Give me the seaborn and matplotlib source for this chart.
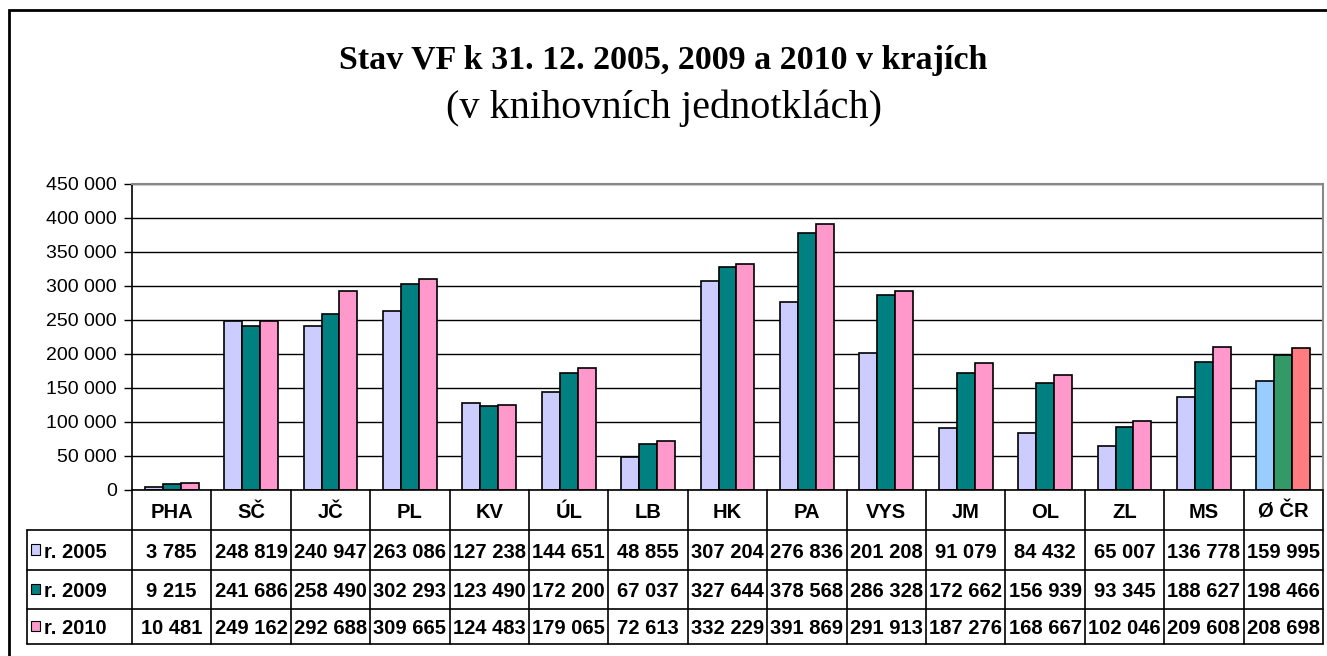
import numpy as np
import pandas as pd
import seaborn as sns
import matplotlib.pyplot as plt
from matplotlib.patches import Rectangle
from matplotlib.lines import Line2D
from matplotlib.ticker import FuncFormatter

# data
regions = ["PHA", "SČ", "JČ", "PL", "KV", "ÚL", "LB", "HK", "PA", "VYS", "JM", "OL", "ZL", "MS", "Ø ČR"]
series = ["r. 2005", "r. 2009", "r. 2010"]
v2005 = [3785, 248819, 240947, 263086, 127238, 144651, 48855, 307204, 276836, 201208, 91079, 84432, 65007, 136778, 159995]
v2009 = [9215, 241686, 258490, 302293, 123490, 172200, 67037, 327644, 378568, 286328, 172662, 156939, 93345, 188627, 198466]
v2010 = [10481, 249162, 292688, 309665, 124483, 179065, 72613, 332229, 391869, 291913, 187276, 168667, 102046, 209608, 208698]

colors = ["#CCCCFF", "#008080", "#FF99CC"]
avg_colors = ["#99CCFF", "#339966", "#FF7C80"]

df = pd.DataFrame({
    "kraj": regions * 3,
    "rok": np.repeat(series, len(regions)),
    "stav": v2005 + v2009 + v2010,
})

sns.set_theme(style="white")
plt.rcParams["font.family"] = ["Liberation Sans", "DejaVu Sans"]
plt.rcParams["text.color"] = "black"
plt.rcParams["ytick.color"] = "black"
plt.rcParams["xtick.color"] = "black"

W, H = 1327, 656
fig = plt.figure(figsize=(W / 100, H / 100), dpi=100)

def fx(px):
    return px / W

def fy(py):
    return 1 - py / H

# outer frame (cropped at right/bottom like the original)
fig.add_artist(Rectangle((fx(9), fy(700)), fx(1400), 690 / H, transform=fig.transFigure,
                         fill=False, ec="black", lw=2))

ax = fig.add_axes([fx(132), fy(490), fx(1323) - fx(132), fy(184) - fy(490)])
sns.barplot(data=df, x="kraj", y="stav", hue="rok", palette=colors, width=0.68,
            edgecolor="black", linewidth=1.2, saturation=1, legend=False, ax=ax)

# the average column uses its own colours
for k, cont in enumerate(ax.containers):
    cont.patches[-1].set_facecolor(avg_colors[k])

ax.set_ylim(0, 450000)
ax.set_xlim(-0.5, len(regions) - 0.5)
ax.set_yticks(np.arange(0, 450001, 50000))
ax.yaxis.set_major_formatter(FuncFormatter(lambda v, p: f"{int(v):,}".replace(",", " ")))
ax.tick_params(axis="y", labelsize=14, length=6, width=1, color="black", left=True, pad=5)
ax.set_xticks([])
ax.set_xlabel("")
ax.set_ylabel("")
ax.yaxis.grid(True, color="black", lw=1)
ax.set_axisbelow(True)
for s in ["top", "right"]:
    ax.spines[s].set_color("#888888")
    ax.spines[s].set_linewidth(1.5)
ax.spines["left"].set_color("black")
ax.spines["bottom"].set_color("black")
ax.spines["left"].set_linewidth(1.2)
ax.spines["bottom"].set_linewidth(1.2)

# data table under the axis
ax_h = 306.0
row_edges = [0, -40 / ax_h, -80 / ax_h, -119 / ax_h, -154 / ax_h]
tr = ax.get_xaxis_transform()
n = len(regions)
left_x = -0.5 - (132 - 27) / (1191 / n)

for i in range(n + 1):
    ax.add_line(Line2D([i - 0.5, i - 0.5], [0, row_edges[-1]], transform=tr, color="black",
                       lw=1.2, clip_on=False))
ax.add_line(Line2D([left_x, left_x], [row_edges[1], row_edges[-1]], transform=tr, color="black",
                   lw=1.2, clip_on=False))
for y in row_edges[1:]:
    ax.add_line(Line2D([left_x, n - 0.5], [y, y], transform=tr, color="black", lw=1.2, clip_on=False))

for i, r in enumerate(regions):
    ax.text(i, (row_edges[0] + row_edges[1]) / 2, r, transform=tr, ha="center", va="center_baseline",
            fontsize=14.5, fontweight="bold")

all_vals = [v2005, v2009, v2010]
for k, vals in enumerate(all_vals):
    yc = (row_edges[k + 1] + row_edges[k + 2]) / 2
    for i, v in enumerate(vals):
        ax.text(i, yc, f"{v:,}".replace(",", " "), transform=tr, ha="center", va="center_baseline",
                fontsize=14.5, fontweight="bold")
    ax.add_patch(Rectangle((left_x + 0.05, yc - 0.015), 0.12, 0.033, transform=tr,
                           facecolor=colors[k], edgecolor="black", lw=0.8, clip_on=False))
    ax.text(left_x + 0.21, yc, series[k], transform=tr, ha="left", va="center_baseline",
            fontsize=14.5, fontweight="bold")

fig.text(0.5, fy(61), "Stav VF k 31. 12. 2005, 2009 a 2010 v krajích", ha="center", va="center",
         fontsize=24.5, fontweight="bold", family="Liberation Serif")
fig.text(0.5, fy(108), "(v knihovních jednotklách)", ha="center", va="center",
         fontsize=29, family="Liberation Serif")

fig.savefig("out.png", dpi=100)
